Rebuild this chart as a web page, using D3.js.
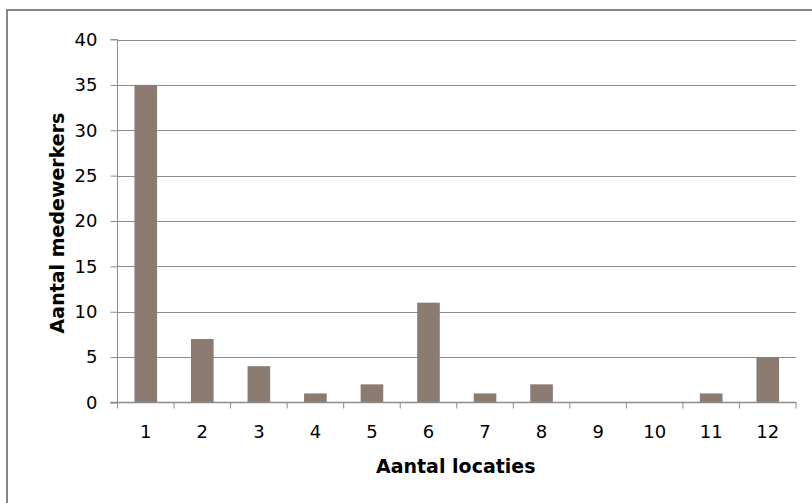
<!DOCTYPE html>
<html>
<head>
<meta charset="utf-8">
<script src="https://cdn.jsdelivr.net/npm/d3@7"></script>
<style>
  html, body { margin: 0; padding: 0; background: #fff; overflow: hidden; }
  svg { display: block; }
  text { font-family: "DejaVu Sans", Verdana, sans-serif; fill: #000; }
</style>
</head>
<body>
<svg id="chart" width="812" height="503"></svg>
<script>
// Aantal medewerkers per aantal locaties
const categories = ["1", "2", "3", "4", "5", "6", "7", "8", "9", "10", "11", "12"];
const values = [35, 7, 4, 1, 2, 11, 1, 2, 0, 0, 1, 5];
const yTicks = [0, 5, 10, 15, 20, 25, 30, 35, 40];
const xTitle = "Aantal locaties";
const yTitle = "Aantal medewerkers";

const svg = d3.select("#chart");
const W = 812, H = 503;
const m = { left: 117.5, right: 16, top: 39.5, bottom: 100.5 };
const axisColor = "#8c8c8c";

// outer frame (runs past the right and bottom edges)
svg.append("rect")
  .attr("x", 7).attr("y", 10)
  .attr("width", 820).attr("height", 520)
  .attr("fill", "#fff").attr("stroke", "#868686").attr("stroke-width", 2);

const x = d3.scaleBand().domain(categories)
  .range([m.left, W - m.right]).paddingInner(0.6).paddingOuter(0.3);
const xEdges = d3.scaleLinear().domain([0, categories.length]).range([m.left, W - m.right]);
const y = d3.scaleLinear().domain([0, 40]).range([H - m.bottom, m.top]);

// horizontal gridlines
svg.append("g").selectAll("line").data(yTicks.filter(t => t > 0)).join("line")
  .attr("x1", m.left).attr("x2", W - m.right)
  .attr("y1", d => Math.round(y(d)) + 0.5).attr("y2", d => Math.round(y(d)) + 0.5)
  .attr("stroke", axisColor).attr("stroke-width", 1);

// bars
svg.append("g").selectAll("rect").data(values).join("rect")
  .attr("x", (d, i) => x(categories[i]))
  .attr("width", x.bandwidth())
  .attr("y", d => y(d))
  .attr("height", d => y(0) - y(d))
  .attr("fill", "#8c7b70");

// y axis
const yAxis = d3.axisLeft(y).tickValues(yTicks).tickSize(7).tickPadding(13);
const gy = svg.append("g").attr("transform", `translate(${m.left},0)`).call(yAxis);
gy.select(".domain").attr("stroke", axisColor).attr("d", `M-7,${y(40)}H0V${y(0)}H-7`);
gy.selectAll(".tick line").attr("stroke", axisColor);
gy.selectAll(".tick text").style("font-size", "18px").attr("fill", "#000")
  .style("font-family", "'DejaVu Sans', Verdana, sans-serif");

// x axis: ticks at category boundaries, labels centred
const gx = svg.append("g").attr("transform", `translate(0,${y(0)})`);
gx.append("line").attr("x1", m.left - 7).attr("x2", W - m.right)
  .attr("y1", 0).attr("y2", 0).attr("stroke", axisColor).attr("stroke-width", 1.5);
gx.selectAll("line.tk").data(d3.range(categories.length + 1)).join("line")
  .attr("class", "tk")
  .attr("x1", d => xEdges(d)).attr("x2", d => xEdges(d))
  .attr("y1", 0).attr("y2", 6).attr("stroke", axisColor);
gx.selectAll("text").data(categories).join("text")
  .attr("x", d => x(d) + x.bandwidth() / 2)
  .attr("y", 35.5).attr("text-anchor", "middle")
  .style("font-size", "18px").text(d => d);

// axis titles
svg.append("text").attr("x", (m.left + W - m.right) / 2 - 1).attr("y", 472.5)
  .attr("text-anchor", "middle").style("font-size", "19px").style("font-weight", "bold")
  .text(xTitle);
svg.append("text")
  .attr("transform", `translate(63.5,223) rotate(-90)`)
  .attr("text-anchor", "middle").style("font-size", "19px").style("font-weight", "bold")
  .text(yTitle);
</script>
</body>
</html>
